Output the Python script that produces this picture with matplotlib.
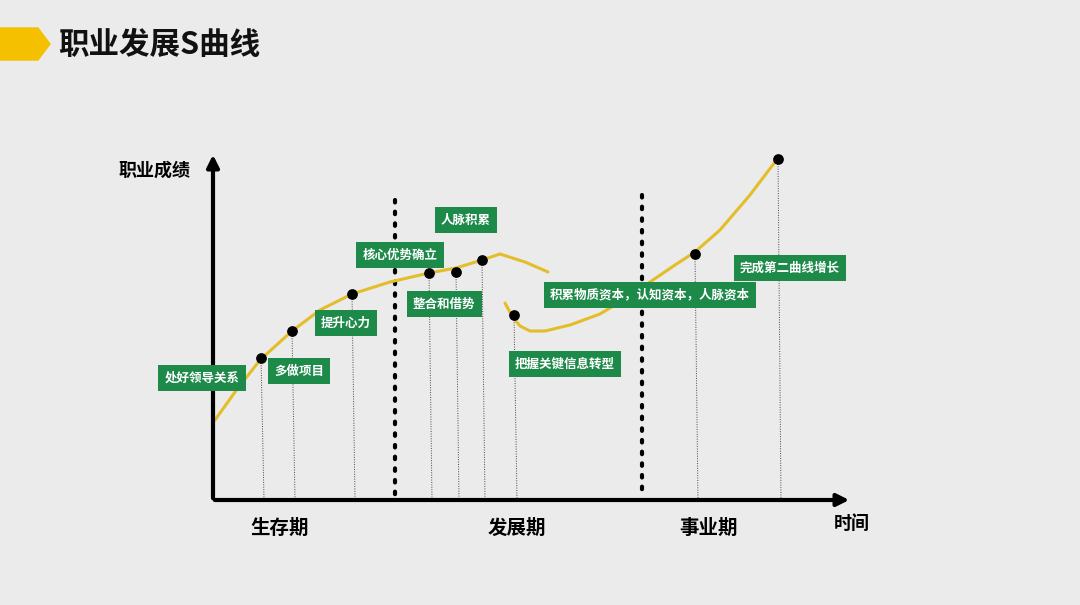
import matplotlib
matplotlib.use("Agg")
import matplotlib.pyplot as plt
from matplotlib.patches import Polygon

plt.rcParams['font.family'] = ['Noto Sans CJK SC', 'DejaVu Sans']

# curve segments (chart coordinates, pixel-like space)
curve1_x = [215, 235, 260, 292, 320, 352, 390, 429, 456, 482, 500, 525, 548]
curve1_y = [420, 392, 360, 331, 310, 294, 282, 273, 268, 260, 254, 262, 272]
curve2_x = [505, 512, 520, 530, 545, 570, 600, 630, 650, 675, 695, 720, 750, 778]
curve2_y = [303, 316, 326, 331, 331, 325, 314, 296, 282, 265, 252, 230, 195, 158]

point_x = [261, 292, 352, 429, 456, 482, 514, 695, 778]
point_y = [358, 331, 294, 273, 272, 260, 315, 254, 159]

labels = ["处好领导关系", "多做项目", "提升心力", "核心优势确立", "人脉积累",
          "整合和借势", "把握关键信息转型", "积累物质资本，认知资本，人脉资本", "完成第二曲线增长"]
label_x = [202, 299, 346, 400, 466, 444, 565, 650, 790]
label_y = [378, 371, 323, 255, 220, 304, 364, 295, 268]

phases = ["生存期", "发展期", "事业期"]
phase_x = [280, 517, 708]
separators_x = [395, 642]

fig = plt.figure(figsize=(10.8, 6.05), dpi=100)
fig.patch.set_facecolor('#ebebeb')
ax = fig.add_axes([0, 0, 1, 1])
ax.set_xlim(0, 1080)
ax.set_ylim(605, 0)
ax.axis('off')

# header
ax.add_patch(Polygon([[0, 28], [38, 28], [50, 44], [38, 60], [0, 60]], closed=True, color='#f5c000'))
ax.text(58, 45, "职业发展S曲线", fontsize=22, fontweight='bold', va='center', ha='left', color='#111111')

# axes arrows
ax.annotate('', xy=(213, 152), xytext=(213, 501),
            arrowprops=dict(arrowstyle='-|>', lw=3, color='black', mutation_scale=18))
ax.annotate('', xy=(852, 500), xytext=(212, 500),
            arrowprops=dict(arrowstyle='-|>', lw=3, color='black', mutation_scale=18))
ax.text(155, 170, "职业成绩", fontsize=13, fontweight='bold', ha='center', va='center')
ax.text(852, 523, "时间", fontsize=13, fontweight='bold', ha='center', va='center')
for p, px in zip(phases, phase_x):
    ax.text(px, 528, p, fontsize=14, fontweight='bold', ha='center', va='center')

# separators
ax.plot([separators_x[0]] * 2, [200, 495], color='black', lw=3, ls=(0, (0.6, 2.2)), dash_capstyle='round')
ax.plot([separators_x[1]] * 2, [195, 492], color='black', lw=3, ls=(0, (0.6, 2.2)), dash_capstyle='round')

# curves
ax.plot(curve1_x, curve1_y, color='#e3bd2a', lw=2.2, solid_capstyle='round')
ax.plot(curve2_x, curve2_y, color='#e3bd2a', lw=2.2, solid_capstyle='round')

# drop lines and points
for x, y in zip(point_x, point_y):
    ax.plot([x, x + 3], [y, 500], color='#444444', lw=0.7, ls=(0, (1, 1.5)))
ax.scatter(point_x, point_y, s=45, color='black', marker='o', zorder=5)

# labels
for t, x, y in zip(labels, label_x, label_y):
    ax.text(x, y, t, fontsize=9, fontweight='bold', color='white', ha='center', va='center',
            bbox=dict(boxstyle='square,pad=0.5', fc='#1e8a4a', ec='none'), zorder=6)

fig.savefig('out.png', dpi=100, facecolor=fig.get_facecolor())
